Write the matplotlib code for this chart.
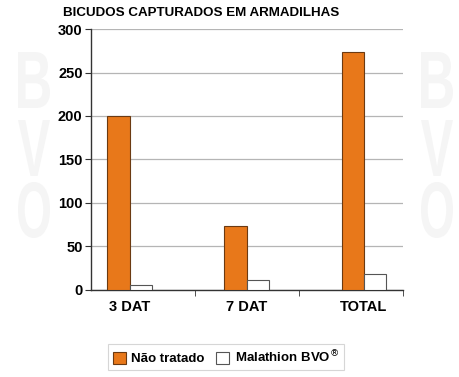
import numpy as np
import matplotlib
matplotlib.use('Agg')
import matplotlib.pyplot as plt
from matplotlib.textpath import TextPath
from matplotlib.patches import PathPatch
from matplotlib.font_manager import FontProperties
import matplotlib.transforms as mtransforms

plt.rcParams['font.family'] = ['Liberation Sans', 'DejaVu Sans']

categories = ['3 DAT', '7 DAT', 'TOTAL']
nao_tratado = [200, 74, 274]
malathion = [6, 11, 18]
series_names = ['Não tratado', 'Malathion BVO$^{®}$']

fig = plt.figure(figsize=(4.59, 3.77), dpi=100)

# faint tall watermark letters, drawn straight in pixels
fp = FontProperties(family='Liberation Sans', weight='bold')
for xc in [34, 437]:
    for yc, ch in zip([80, 148, 210], 'BVO'):
        tp = TextPath((0, 0), ch, size=10, prop=fp)
        bb = tp.get_extents()
        t = (mtransforms.Affine2D().translate(-bb.x0 - bb.width / 2, -bb.y0 - bb.height / 2)
             .scale(32 / bb.width, 56 / bb.height).translate(xc, 377 - yc))
        fig.patches.append(PathPatch(t.transform_path(tp), facecolor='#f5f5f5', edgecolor='none',
                                     transform=mtransforms.IdentityTransform(), zorder=0))

ax = fig.add_axes([0.198, 0.231, 0.68, 0.692])
ax.patch.set_alpha(0)

# group centres sit a bit off the category boundaries, like the original
x = np.arange(len(categories)) * 1.125 + 0.375
w = 0.216
b1 = ax.bar(x - w / 2, nao_tratado, w, color='#E8781A', edgecolor='#6b3a12', linewidth=0.8,
            label=series_names[0], zorder=3)
b2 = ax.bar(x + w / 2, malathion, w, color='white', edgecolor='#555555', linewidth=0.8,
            label=series_names[1], zorder=3)

ax.set_xlim(0, 3)
ax.set_ylim(0, 300)
ax.set_yticks(range(0, 301, 50))
ax.set_xticks(x)
ax.set_xticklabels(categories)
ax.set_xticks([1, 2, 3], minor=True)
ax.tick_params(axis='x', which='major', length=0, pad=7)
ax.tick_params(axis='x', which='minor', length=4, color='#333333')
ax.tick_params(axis='y', length=4, color='#333333', pad=2)
for lab in ax.get_xticklabels() + ax.get_yticklabels():
    lab.set_fontweight('bold')
    lab.set_fontsize(10.5)

ax.yaxis.grid(True, color='#b5b5b5', linewidth=0.9, zorder=0)
ax.set_axisbelow(True)
for s in ['top', 'right']:
    ax.spines[s].set_visible(False)
for s in ['left', 'bottom']:
    ax.spines[s].set_color('#333333')
    ax.spines[s].set_linewidth(1.0)

fig.text(0.137, 0.965, 'BICUDOS CAPTURADOS EM ARMADILHAS', fontsize=9.6, fontweight='bold',
         va='center', ha='left')

leg = fig.legend(handles=[b1, b2], loc='center', bbox_to_anchor=(0.492, 0.053), ncol=2,
                 frameon=True, fancybox=False, edgecolor='#cccccc', handlelength=1.0,
                 handleheight=1.0, handletextpad=0.4, columnspacing=0.9,
                 prop={'weight': 'bold', 'size': 9.5}, borderpad=0.35, borderaxespad=0)
leg.get_frame().set_linewidth(0.8)

fig.savefig('out.png', dpi=100)
